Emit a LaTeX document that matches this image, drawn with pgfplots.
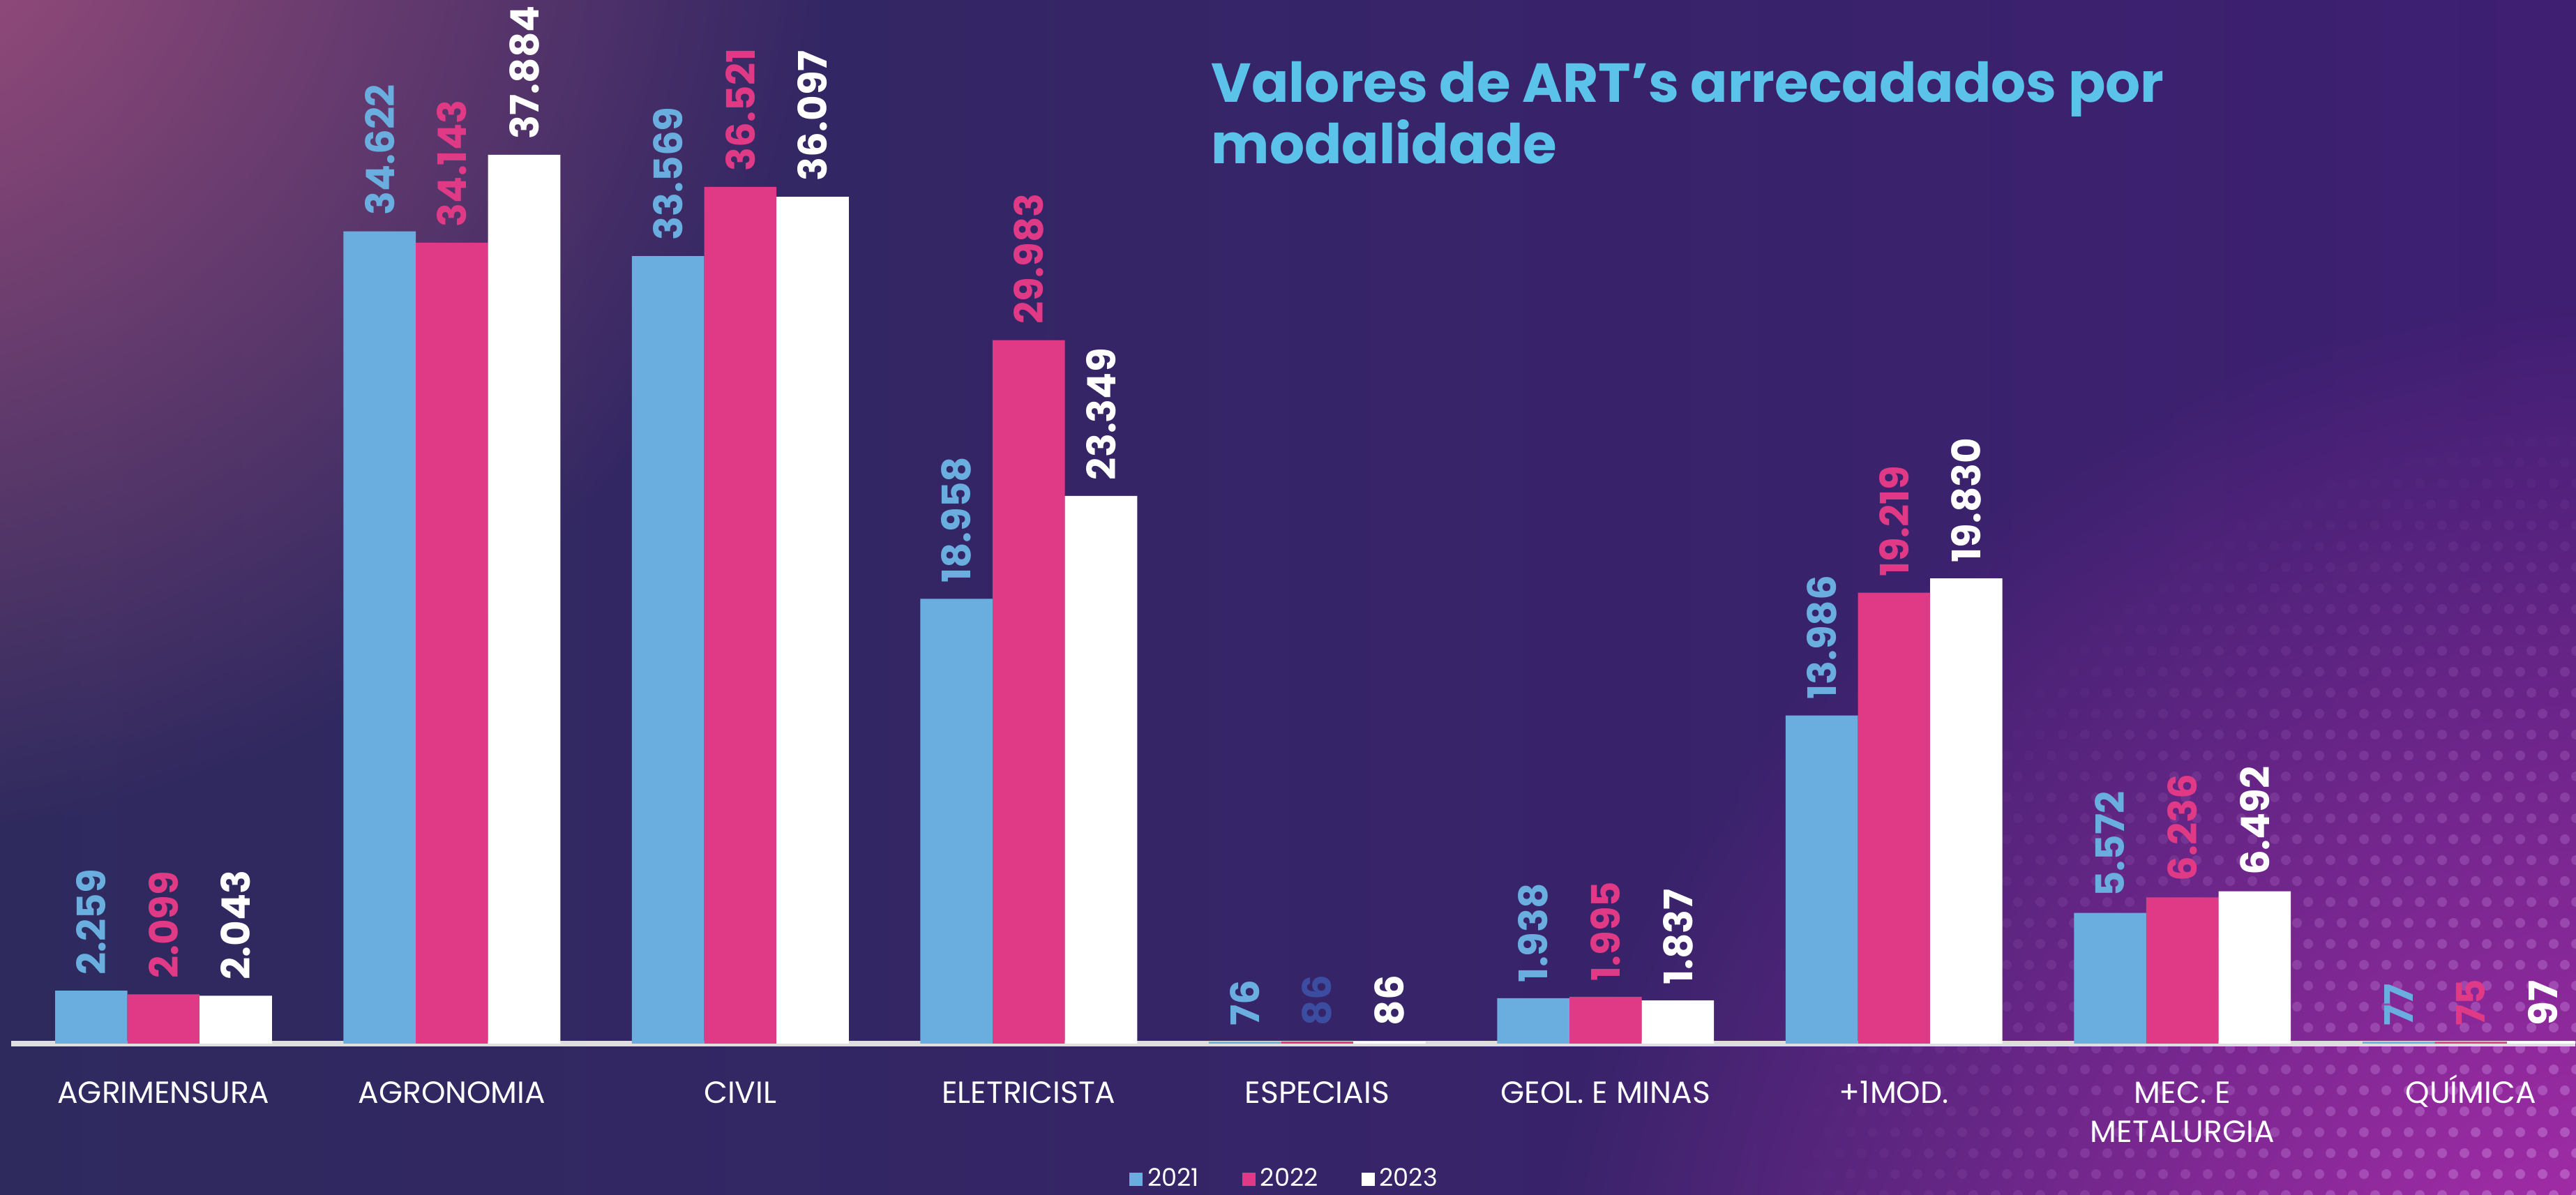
\documentclass[border=0pt]{standalone}
\usepackage{fontspec}
\setmainfont{Poppins}
\usepackage{pgfplots}
\pgfplotsset{compat=1.18}
\usetikzlibrary{fadings}
\definecolor{cblue}{HTML}{6AAEE0}
\definecolor{cpink}{HTML}{E03A86}
\definecolor{cdblue}{HTML}{3C4CA0}
\definecolor{ccyan}{HTML}{5BC3EA}
\definecolor{cbase}{HTML}{DEDEDE}
\definecolor{bgA}{HTML}{2E2A5E}
\definecolor{bgB}{HTML}{3E1F72}
\definecolor{bgPink}{HTML}{A5507F}
\definecolor{bgMag}{HTML}{B82FB2}
\definecolor{dotc}{HTML}{D9A0F0}
\tikzfading[name=radfade, inner color=transparent!0, outer color=transparent!100]
\newcommand{\tl}[1]{\vphantom{Í}#1}
\begin{document}
\begin{tikzpicture}
\useasboundingbox (0,0) rectangle (36.93cm,17.13cm);
\shade[left color=bgA, right color=bgB] (0,0) rectangle (36.93cm,17.13cm);
\fill[bgPink, path fading=radfade] (-2cm,19cm) circle (14cm);
\fill[bgMag, path fading=radfade] (38cm,-3cm) circle (16cm);
\foreach \j in {0,...,36}{
  \foreach \i in {0,...,36}{
    \pgfmathsetmacro{\xx}{36.93 - \i*0.32 - mod(\j,2)*0.16}
    \pgfmathsetmacro{\yy}{\j*0.30}
    \pgfmathsetmacro{\dd}{sqrt((\xx-38)^2 + (\yy+1)^2)}
    \pgfmathsetmacro{\op}{max(0, 0.45*(1-\dd/12.5))}
    \ifdim\op pt>0.01pt
      \fill[dotc, opacity=\op] (\xx cm,\yy cm) circle (0.07cm);
    \fi
  }
}
\begin{axis}[
  at={(0.165cm,2.17cm)}, anchor=south west,
  scale only axis, width=36.76cm, height=14.96cm,
  xmin=-0.527, xmax=8.363, ymin=0, ymax=44486,
  axis x line=bottom, axis y line=none,
  axis line style={-, draw=cbase, line width=2pt},
  ytick=\empty,
  xtick={0,...,8},
  xticklabels={\tl{AGRIMENSURA},\tl{AGRONOMIA},\tl{CIVIL},\tl{ELETRICISTA},\tl{ESPECIAIS},\tl{GEOL. E MINAS},\tl{+1MOD.},{\tl{MEC. E}\\METALURGIA},\tl{QUÍMICA}},
  xtick style={draw=none},
  xticklabel style={text=white, font=\fontsize{12.5}{16}\selectfont, align=center, anchor=north, inner sep=0pt, yshift=-0.29cm},
  ybar=0pt, bar width=1.036cm,
  nodes near coords,
  nodes near coords style={rotate=90, anchor=west, inner xsep=0.22cm, inner ysep=0pt, font=\bfseries\fontsize{16}{16}\selectfont},
  /pgf/number format/1000 sep={.},
  /pgf/number format/assume math mode=true,
  legend style={draw=none, fill=none, text=white, font=\fontsize{10}{10}\selectfont, at={(0.497,-0.130)}, anchor=center, legend columns=3, /tikz/every even column/.append style={column sep=0.55cm}},
  legend image code/.code={\fill[#1] (0cm,-0.095cm) rectangle (0.19cm,0.095cm);},
]
\addplot[fill=cblue, draw=none, every node near coord/.append style={text=cblue}] coordinates {(0,2259) (1,34622) (2,33569) (3,18958) (4,76) (5,1938) (6,13986) (7,5572) (8,77)};
\addplot[fill=cpink, draw=none, visualization depends on={value \thisrow{lc} \as \labcol}, every node near coord/.append style={text=\labcol}] table[x=x, y=y] {
x y lc
0 2099 cpink
1 34143 cpink
2 36521 cpink
3 29983 cpink
4 86 cdblue
5 1995 cpink
6 19219 cpink
7 6236 cpink
8 75 cpink
};
\addplot[fill=white, draw=none, every node near coord/.append style={text=white}] coordinates {(0,2043) (1,37884) (2,36097) (3,23349) (4,86) (5,1837) (6,19830) (7,6492) (8,97)};
\legend{2021,2022,2023}
\end{axis}
\node[anchor=north west, align=left, text=ccyan, font=\bfseries\fontsize{22.4}{23.3}\selectfont, inner sep=0pt] at (17.36cm,16.25cm) {Valores de ART’s arrecadados por\\modalidade};
\end{tikzpicture}
\end{document}
